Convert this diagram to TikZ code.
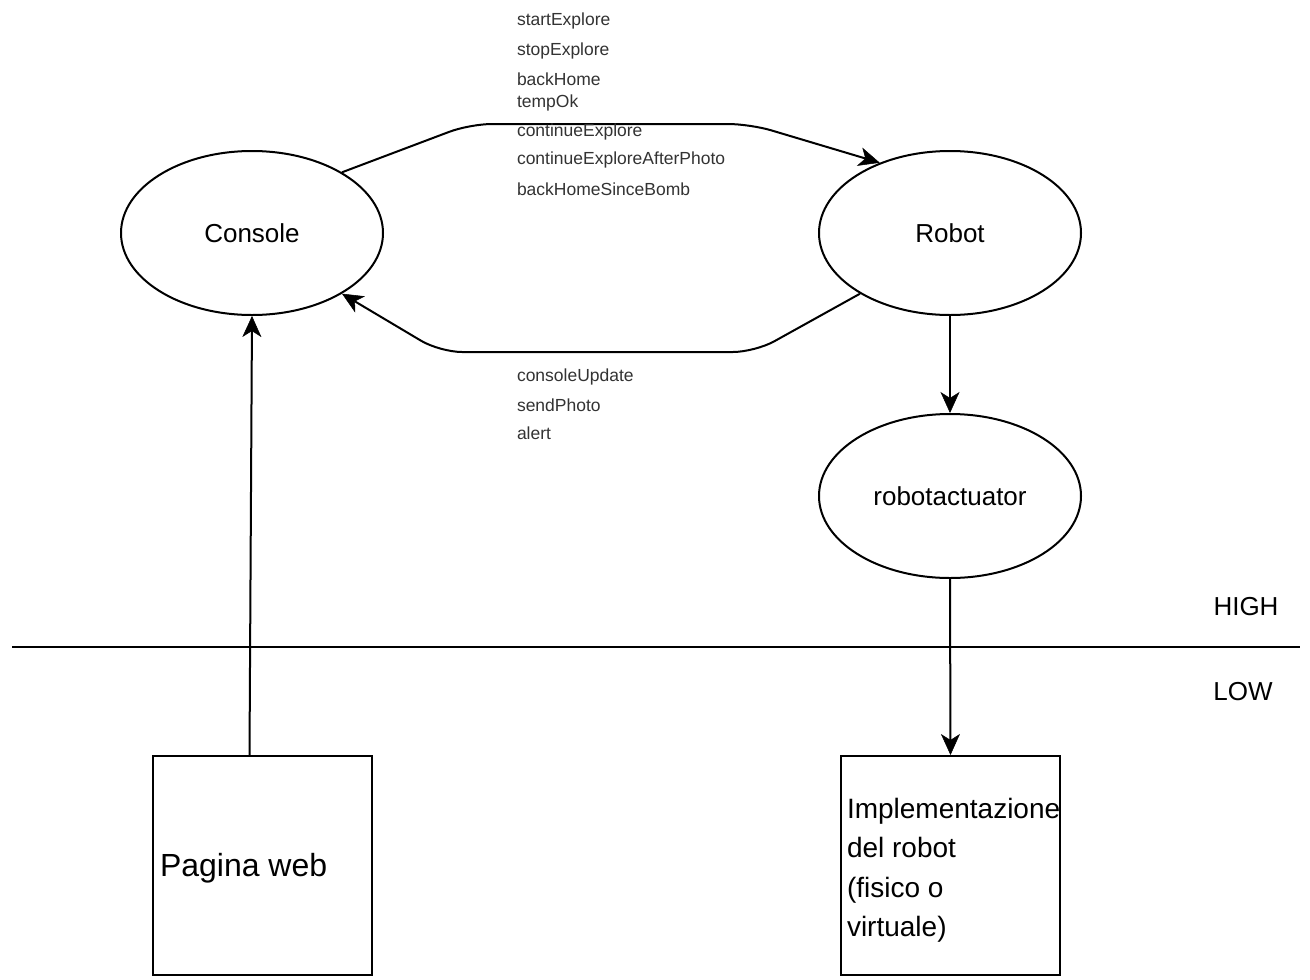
\documentclass[tikz,border=0pt]{standalone}
\usepackage{fontspec}
\setmainfont{Liberation Sans}
\usetikzlibrary{shapes.geometric,arrows.meta,calc}
\begin{document}
\begin{tikzpicture}[x=1pt,y=-1pt,
  line width=2pt,
  ell/.style={ellipse,draw,line width=2pt,minimum width=262pt,minimum height=164pt,inner sep=0pt,font=\fontsize{26}{30}\selectfont},
  boxnode/.style={rectangle,draw,line width=2pt,minimum width=219pt,minimum height=219pt,inner sep=0pt},
  lbl/.style={anchor=west,inner sep=0pt,text=black!80,font=\fontsize{17.5}{20}\selectfont},
  arr/.style={-{Stealth[length=21pt,width=19pt,inset=6pt,line width=0.5pt]},line width=2pt,rounded corners=22pt},
  lvl/.style={anchor=center,inner sep=0pt,font=\fontsize{26}{30}\selectfont}]
\useasboundingbox (0,0) rectangle (1310,980);
\fill[white] (0,0) rectangle (1310,980);

\node[ell] (console) at (252,233) {Console};
\node[ell] (robot) at (950,233) {Robot};
\node[ell] (act) at (950,496) {robotactuator};

\node[boxnode] (pw) at (262.5,865.5) {};
\node[anchor=west,inner sep=0pt,font=\fontsize{32}{36}\selectfont] (pwt) at (159,868) {Pagina web};

\node[boxnode] (impl) at (950.5,865.5) {};
\node[anchor=north west,inner sep=0pt,align=left,font=\fontsize{28}{39.5}\selectfont] (implt) at (846,797) {Implementazione\\del robot\\(fisico o\\virtuale)};

\coordinate (ll) at (12,647);
\coordinate (lr) at (1300,647);
\draw[line width=2pt] (ll) -- (lr);
\node[lvl] (high) at (1246,607) {HIGH};
\node[lvl] (low) at (1243,692) {LOW};

% upper connector
\draw[arr] (console.34.7) -- (470,124) -- (750,124) -- (robot.135.8);
% lower connector
\draw[arr] (robot.214.1) -- (755,352) -- (440,352) -- (console.326.3);
% vertical connectors
\draw[arr] ($(pw.north)+(-13,0)$) -- (console.south);
\draw[arr] (robot.south) -- (act.north);
\draw[arr] (act.south) -- (impl.north);

\node[lbl] (l1) at (516,21) {startExplore};
\node[lbl] (l2) at (516,51) {stopExplore};
\node[lbl] (l3) at (516,79) {backHome};
\node[lbl] (l4) at (516,103) {tempOk};
\node[lbl] (l5) at (516,132) {continueExplore};
\node[lbl] (l6) at (516,160) {continueExploreAfterPhoto};
\node[lbl] (l7) at (516,189) {backHomeSinceBomb};

\node[lbl] (m1) at (516,377) {consoleUpdate};
\node[lbl] (m2) at (516,405) {sendPhoto};
\node[lbl] (m3) at (516,433) {alert};
\end{tikzpicture}
\end{document}
